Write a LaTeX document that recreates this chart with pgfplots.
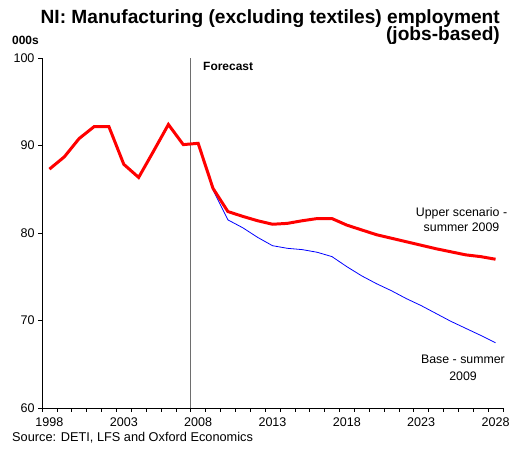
\documentclass[border=0pt]{standalone}
\usepackage{pgfplots}
\pgfplotsset{compat=1.18}
\usepackage{fontspec}
\setmainfont{Liberation Sans}
\definecolor{xlred}{RGB}{255,0,0}
\definecolor{xlblue}{RGB}{0,0,255}
\definecolor{fgray}{RGB}{110,110,110}
\begin{document}
\begin{tikzpicture}
\path[use as bounding box] (-42bp,-44bp) rectangle (468bp,408bp);
\begin{axis}[
  at={(0,0)}, anchor=south west,
  scale only axis, width=461bp, height=350bp,
  xmin=1997.5, xmax=2028.5, ymin=60, ymax=100,
  axis x line*=bottom, axis y line*=left,
  axis line style={-, black, line width=0.8pt},
  xtick={1998,2003,2008,2013,2018,2023,2028},
  major x tick style={draw=none},
  minor xtick={1997.5,1998.5,...,2028.5},
  minor x tick style={black, line width=0.6pt},
  minor tick length=4bp,
  ytick={60,70,80,90,100},
  major y tick style={black, line width=0.6pt},
  major tick length=4bp,
  tick align=outside,
  xticklabel style={/pgf/number format/1000 sep=, yshift=-2bp},
  /pgf/number format/assume math mode=true,
  tick label style={font=\fontsize{12.6}{14}\selectfont},
  clip=false,
]
\addplot[fgray, line width=1.4pt] coordinates {(2007.5,60) (2007.5,100)};
\addplot[xlblue, line width=0.8pt] coordinates {
(2008,90.25) (2009,84.9) (2010,81.5) (2011,80.6) (2012,79.5) (2013,78.55)
(2014,78.25) (2015,78.1) (2016,77.8) (2017,77.3) (2018,76.15) (2019,75.1)
(2020,74.2) (2021,73.4) (2022,72.5) (2023,71.7) (2024,70.8) (2025,69.9)
(2026,69.1) (2027,68.3) (2028,67.45)};
\addplot[xlred, line width=3pt] coordinates {
(1998,87.3) (1999,88.7) (2000,90.8) (2001,92.15) (2002,92.15) (2003,87.85)
(2004,86.35) (2005,89.35) (2006,92.4) (2007,90.1) (2008,90.25) (2009,85.1)
(2010,82.45) (2011,81.9) (2012,81.4) (2013,81.0) (2014,81.1) (2015,81.4)
(2016,81.65) (2017,81.65) (2018,80.9) (2019,80.35) (2020,79.8) (2021,79.4)
(2022,79.0) (2023,78.6) (2024,78.2) (2025,77.85) (2026,77.5) (2027,77.3)
(2028,77.0)};
\end{axis}
\node[anchor=base east, font=\fontsize{19.2}{20}\bfseries, inner sep=0pt] at (458bp,384.7bp) {NI: Manufacturing (excluding textiles) employment};
\node[anchor=base east, font=\fontsize{19.2}{20}\bfseries, inner sep=0pt] at (458bp,367.5bp) {(jobs-based)};
\node[anchor=base west, font=\fontsize{12}{14}\bfseries, inner sep=0pt] at (-30bp,363bp) {000s};
\node[anchor=base west, font=\fontsize{12}{14}\bfseries, inner sep=0pt] at (161bp,337bp) {Forecast};
\node[anchor=base, font=\fontsize{12.4}{14}\selectfont, inner sep=0pt] at (419.5bp,191bp) {Upper scenario -};
\node[anchor=base, font=\fontsize{12.4}{14}\selectfont, inner sep=0pt] at (419.5bp,176bp) {summer 2009};
\node[anchor=base, font=\fontsize{12.4}{14}\selectfont, inner sep=0pt] at (421bp,44bp) {Base - summer};
\node[anchor=base, font=\fontsize{12.4}{14}\selectfont, inner sep=0pt] at (421bp,28bp) {2009};
\node[anchor=base west, font=\fontsize{12.8}{14}\selectfont, inner sep=0pt] at (-30bp,-33bp) {Source: DETI, LFS and Oxford Economics};
\end{tikzpicture}
\end{document}
